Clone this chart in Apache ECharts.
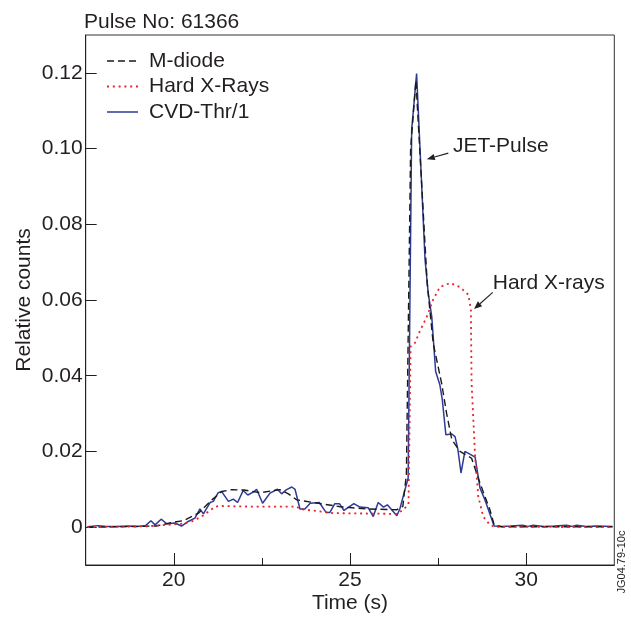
<!DOCTYPE html>
<html>
<head>
<meta charset="utf-8">
<script src="https://cdn.jsdelivr.net/npm/echarts@6/dist/echarts.min.js"></script>
<style>
html,body{margin:0;padding:0;background:#fff;}
#chart{width:631px;height:619px;}
</style>
</head>
<body>
<div id="chart"></div>
<script>
// ---- data (time s, relative counts) ----
const seriesNames = ['M-diode', 'Hard X-Rays', 'CVD-Thr/1'];
const xTickLabels = [20, 25, 30];
const xMinorTicks = [22.5, 27.5];
const yTickLabels = [0, 0.02, 0.04, 0.06, 0.08, 0.10, 0.12];

const mDiode = [[17.55,0.0000],[18.5,0.0001],[19.5,0.0003],[19.94,0.0012],[20.27,0.0017],[20.70,0.0037],[21.08,0.0072],[21.36,0.0094],[21.64,0.0099],[22.0,0.0098],[22.45,0.0091],[23.01,0.0099],[23.25,0.0088],[23.49,0.0072],[23.96,0.0065],[24.72,0.0054],[25.47,0.0048],[26.33,0.0046],[26.5,0.0055],[26.6,0.0140],[26.72,0.1000],[26.87,0.1180],[27.19,0.0645],[27.36,0.0486],[27.60,0.0380],[27.74,0.0301],[27.89,0.0231],[28.12,0.0200],[28.45,0.0182],[28.69,0.0116],[28.97,0.0046],[29.09,0.0006],[29.3,0.0001],[32.45,0.0001]];

const hardXRays = [[17.55,0],[19.2,0.0002],[19.66,0.0005],[20.22,0.0009],[20.51,0.0015],[20.79,0.0028],[21.17,0.0054],[21.31,0.0056],[22.28,0.0054],[23.49,0.0054],[23.58,0.0048],[24.52,0.0037],[26.33,0.0035],[26.51,0.0046],[26.66,0.0060],[26.72,0.0477],[26.84,0.0486],[26.98,0.0517],[27.18,0.0556],[27.36,0.0601],[27.55,0.0634],[27.84,0.0645],[28.12,0.0634],[28.36,0.0614],[28.43,0.0574],[28.45,0.0381],[28.55,0.0187],[28.64,0.0081],[28.78,0.0028],[28.97,0.0006],[29.11,0.0001],[32.45,0]];

const cvdThr = [[17.55,0.0001],[17.85,0.0004],[18.1,0.0002],[18.4,0.0002],[18.7,0.0003],[18.95,0.0002],[19.2,0.0004],[19.35,0.0017],[19.47,0.0006],[19.64,0.0021],[19.80,0.0009],[20.03,0.0011],[20.22,0.0003],[20.41,0.0015],[20.60,0.0024],[20.74,0.0048],[20.84,0.0035],[21.03,0.0065],[21.12,0.0068],[21.26,0.0091],[21.36,0.0094],[21.55,0.0068],[21.69,0.0074],[21.81,0.0065],[21.97,0.0097],[22.10,0.0085],[22.28,0.0094],[22.35,0.0100],[22.52,0.0063],[22.73,0.0090],[22.94,0.0100],[23.06,0.0088],[23.20,0.0099],[23.35,0.0106],[23.44,0.0100],[23.58,0.0048],[23.72,0.0048],[23.87,0.0063],[24.13,0.0065],[24.32,0.0039],[24.43,0.0039],[24.57,0.0062],[24.70,0.0062],[24.83,0.0044],[25.11,0.0062],[25.28,0.0053],[25.52,0.0051],[25.66,0.0028],[25.80,0.0065],[25.95,0.0053],[26.06,0.0059],[26.33,0.0030],[26.42,0.0050],[26.56,0.0099],[26.65,0.0129],[26.75,0.1050],[26.89,0.1198],[27.13,0.0706],[27.22,0.0618],[27.32,0.0556],[27.43,0.0411],[27.55,0.0376],[27.62,0.0336],[27.72,0.0244],[27.89,0.0246],[27.98,0.0239],[28.06,0.0206],[28.15,0.0143],[28.26,0.0200],[28.55,0.0185],[28.69,0.0103],[28.83,0.0072],[29.09,0.0003],[29.3,0.0002],[29.55,0.0003],[29.9,0.0005],[30.05,0.0002],[30.2,0.0005],[30.5,0.0002],[30.8,0.0003],[31.15,0.0005],[31.3,0.0002],[31.43,0.0005],[31.7,0.0002],[32.0,0.0003],[32.45,0.0002]];

// annotations (data coordinates)
const annotations = [
  {text: 'JET-Pulse', tail: [27.79, 0.0988], tip: [27.18, 0.0972], label: [27.92, 0.1005]},
  {text: 'Hard X-rays', tail: [29.05, 0.0620], tip: [28.52, 0.0576], label: [29.05, 0.0645]}
];

// ---- styles ----
const FONT = '"Liberation Sans", Arial, Helvetica, sans-serif';
const TXT = '#231f20';
const styles = [
  {color: '#1a1a1a', width: 1.4, dash: [7, 4]},
  {color: '#e8232b', width: 1.8, dash: [2, 3.8]},
  {color: '#2e3a96', width: 1.5, dash: null}
];

const chart = echarts.init(document.getElementById('chart'), null, {renderer: 'canvas'});

const option = {
  backgroundColor: '#fff',
  animation: false,
  textStyle: {fontFamily: FONT, color: TXT},
  title: {
    text: 'Pulse No: 61366', left: 84, top: 12, padding: 0,
    textStyle: {fontFamily: FONT, fontSize: 21, fontWeight: 'normal', color: TXT}
  },
  grid: {
    left: 85.7, right: 16.7, top: 35, bottom: 54,
    show: true, borderColor: '#333', borderWidth: 1, backgroundColor: 'transparent',
    containLabel: false, outerBoundsMode: 'none'
  },
  xAxis: [{
    type: 'value', min: 17.5, max: 32.5,
    name: 'Time (s)', nameLocation: 'middle', nameGap: 28, nameMoveOverlap: false,
    nameTextStyle: {fontFamily: FONT, fontSize: 21, color: TXT, verticalAlign: 'top'},
    axisLine: {show: true, onZero: false, lineStyle: {color: '#231f20', width: 1}},
    axisTick: {show: true, inside: true, length: 12, customValues: xTickLabels, lineStyle: {color: '#231f20'}},
    axisLabel: {show: true, customValues: xTickLabels, margin: 5, fontFamily: FONT, fontSize: 21, color: TXT},
    splitLine: {show: false}
  }, {
    type: 'value', min: 17.5, max: 32.5, position: 'bottom', gridIndex: 0,
    axisLine: {show: false, onZero: false},
    axisTick: {show: true, inside: true, length: 7, customValues: xMinorTicks, lineStyle: {color: '#231f20'}},
    axisLabel: {show: false},
    splitLine: {show: false}
  }],
  yAxis: {
    type: 'value', min: -0.01, max: 0.13,
    name: 'Relative counts', nameLocation: 'middle', nameGap: 51, nameRotate: 90, nameMoveOverlap: false,
    nameTextStyle: {fontFamily: FONT, fontSize: 21, color: TXT},
    axisLine: {show: true, onZero: false, lineStyle: {color: '#231f20', width: 1}},
    axisTick: {show: true, inside: true, length: 11, customValues: yTickLabels, lineStyle: {color: '#231f20'}},
    axisLabel: {
      show: true, customValues: yTickLabels, margin: 3, fontFamily: FONT, fontSize: 21, color: TXT,
      formatter: v => (Math.abs(v) < 1e-9 ? '0' : v.toFixed(2))
    },
    splitLine: {show: false}
  },
  series: [
    {
      name: seriesNames[0], type: 'line', data: mDiode, symbol: 'none', z: 4,
      lineStyle: {color: styles[0].color, width: styles[0].width, type: styles[0].dash}
    },
    {
      name: seriesNames[1], type: 'line', data: hardXRays, symbol: 'none', z: 5,
      lineStyle: {color: styles[1].color, width: styles[1].width, type: styles[1].dash}
    },
    {
      name: seriesNames[2], type: 'line', data: cvdThr, symbol: 'none', z: 3,
      lineStyle: {color: styles[2].color, width: styles[2].width, type: 'solid'}
    }
  ]
};
chart.setOption(option);

// annotations, legend and side code
function arrowGraphic(a) {
  const p0 = chart.convertToPixel({gridIndex: 0}, a.tail);
  const p1 = chart.convertToPixel({gridIndex: 0}, a.tip);
  const pl = chart.convertToPixel({gridIndex: 0}, a.label);
  const dx = p1[0] - p0[0], dy = p1[1] - p0[1];
  const len = Math.sqrt(dx * dx + dy * dy);
  const ux = dx / len, uy = dy / len;
  const hl = 8, hw = 3.2;
  const bx = p1[0] - ux * hl, by = p1[1] - uy * hl;
  return [
    {type: 'line', shape: {x1: p0[0], y1: p0[1], x2: bx, y2: by}, style: {stroke: '#231f20', lineWidth: 1.1}, z: 10},
    {type: 'polygon', shape: {points: [[p1[0], p1[1]], [bx - uy * hw, by + ux * hw], [bx + uy * hw, by - ux * hw]]}, style: {fill: '#231f20'}, z: 10},
    {type: 'text', x: pl[0], y: pl[1], style: {text: a.text, font: '21px ' + FONT, fill: TXT, textAlign: 'left', textVerticalAlign: 'middle'}, z: 10}
  ];
}
let elements = [];
annotations.forEach(a => { elements = elements.concat(arrowGraphic(a)); });

// legend (line samples + names)
const legendX = 107, legendY = 61, legendStep = 25.5, legendLen = 31;
seriesNames.forEach((n, i) => {
  const y = legendY + i * legendStep;
  const s = styles[i];
  elements.push({type: 'line', shape: {x1: legendX, y1: y, x2: legendX + legendLen, y2: y},
    style: {stroke: s.color, lineWidth: s.width, lineDash: s.dash || null}, z: 10});
  elements.push({type: 'text', x: legendX + legendLen + 11, y: y,
    style: {text: n, font: '21px ' + FONT, fill: TXT, textAlign: 'left', textVerticalAlign: 'middle'}, z: 10});
});

elements.push({
  type: 'text', x: 622, y: 562, rotation: Math.PI / 2,
  style: {text: 'JG04.79-10c', font: '11px ' + FONT, fill: TXT, textAlign: 'center', textVerticalAlign: 'middle'}, z: 10
});
chart.setOption({graphic: {elements: elements}});
</script>
</body>
</html>
